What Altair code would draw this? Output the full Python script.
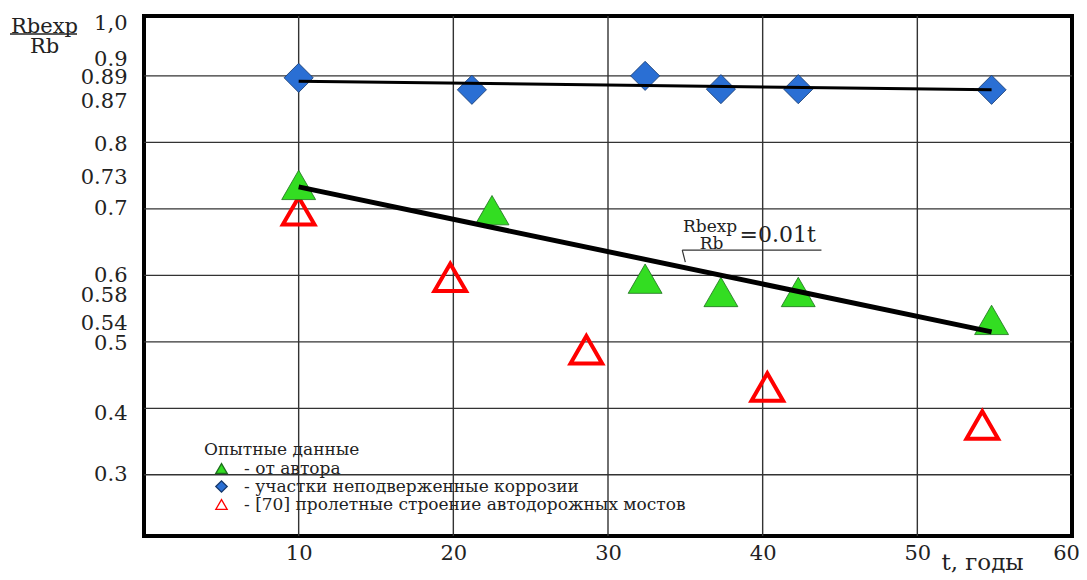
import altair as alt
import pandas as pd

FONT = "DejaVu Serif"
TXT = "#222222"

SER_A = "- от автора"
SER_B = "- участки неподверженные коррозии"
SER_C = "- [70] пролетные строение автодорожных мостов"
series_names = [SER_A, SER_B, SER_C]

# experimental data (t, years ; Rbexp/Rb)
author_t = [10, 22.5, 32.4, 37.3, 42.3, 54.8]
author_r = [0.736, 0.698, 0.595, 0.575, 0.575, 0.533]
nocorr_t = [10, 21.2, 32.4, 37.3, 42.3, 54.8]
nocorr_r = [0.897, 0.879, 0.900, 0.880, 0.880, 0.879]
bridge_t = [10, 19.8, 28.6, 40.3, 54.2]
bridge_r = [0.697, 0.597, 0.488, 0.432, 0.375]

# trend lines
trend_author_t = [10, 54.8]
trend_author_r = [0.733, 0.515]
trend_nocorr_t = [10, 54.8]
trend_nocorr_r = [0.892, 0.879]

x_ticks = [10, 20, 30, 40, 50, 60]
y_grid = [0.3, 0.4, 0.5, 0.6, 0.7, 0.8, 0.9]
y_top = 0.99
y_labels = [y_top, 0.9, 0.89, 0.87, 0.8, 0.73, 0.7, 0.6, 0.58, 0.54, 0.5, 0.4, 0.3]
y_label_shift = [7, -16, -5, 6, 2, -11, 0, 0, 7, 8, 2, 5, 0]

df_a = pd.DataFrame({"t": author_t, "v": author_r, "s": [SER_A] * len(author_t)})
df_b = pd.DataFrame({"t": nocorr_t, "v": nocorr_r, "s": [SER_B] * len(nocorr_t)})
df_c = pd.DataFrame({"t": bridge_t, "v": bridge_r, "s": [SER_C] * len(bridge_t)})

xscale = alt.Scale(domain=[0, 60], nice=False, zero=False)
yscale = alt.Scale(domain=[0.208, y_top], nice=False, zero=False)

offset_cond = {
    "condition": [
        {"test": f"abs(datum.value - {v}) < 0.0001", "value": s}
        for v, s in zip(y_labels, y_label_shift) if s != 0
    ],
    "value": 0,
}
x_offset_cond = {"condition": {"test": "datum.value == 60", "value": -6}, "value": 0}

xaxis = alt.Axis(values=x_ticks, grid=False, ticks=False, domain=False,
                 labelFont=FONT, labelFontSize=21, labelColor=TXT, labelPadding=6,
                 labelFlush=False, labelOverlap=False, labelOffset=x_offset_cond,
                 title="t, годы", titleFont=FONT, titleFontSize=23,
                 titleFontWeight="normal", titleColor=TXT, titleX=838, titleY=33,
                 titleAlign="center", titleBaseline="alphabetic")
yaxis = alt.Axis(values=y_labels, grid=False, ticks=False, domain=False,
                 labelFont=FONT, labelFontSize=21, labelColor=TXT, labelPadding=17,
                 labelFlush=False, labelOverlap=False, labelOffset=offset_cond,
                 labelExpr=f"abs(datum.value - {y_top}) < 0.0001 ? '1,0' : format(datum.value, '.2~f')",
                 title=["Rbexp", "Rb"], titleAngle=0, titleFont=FONT, titleFontSize=21,
                 titleFontWeight="normal", titleColor=TXT, titleX=-100, titleY=16,
                 titleAlign="center", titleBaseline="alphabetic", titleLineHeight=20)

X = alt.X("t:Q", scale=xscale, axis=xaxis)
Y = alt.Y("v:Q", scale=yscale, axis=yaxis)

grid_h = alt.Chart(pd.DataFrame({"v": y_grid})).mark_rule(
    color="#333333", strokeWidth=1.4).encode(y=Y)
grid_v = alt.Chart(pd.DataFrame({"t": x_ticks[:-1]})).mark_rule(
    color="#333333", strokeWidth=1.4).encode(x=X)

legend = alt.Legend(title="Опытные данные", orient="none", legendX=60, legendY=426,
                    titleFont=FONT, titleFontSize=17, titleFontWeight="normal",
                    titleColor=TXT, titlePadding=1, labelFont=FONT, labelFontSize=17,
                    labelColor=TXT, labelLimit=800, symbolSize=130, symbolStrokeWidth=1.3,
                    symbolOffset=9, labelOffset=14, rowPadding=0, padding=0)

enc = dict(
    x=X, y=Y,
    shape=alt.Shape("s:N", scale=alt.Scale(domain=series_names,
                    range=["triangle-up", "diamond", "triangle-up"]), legend=legend),
    fill=alt.Fill("s:N", scale=alt.Scale(domain=series_names,
                  range=["#33dd22", "#2a6fd4", "transparent"]), legend=legend),
    stroke=alt.Stroke("s:N", scale=alt.Scale(domain=series_names,
                      range=["#1d6e1d", "#17396b", "#ff0000"]), legend=legend),
)

pts_c = alt.Chart(df_c).mark_point(opacity=1, size=1000, strokeWidth=4).encode(**enc)
pts_b = alt.Chart(df_b).mark_point(opacity=1, size=850, strokeWidth=0.8).encode(**enc)
pts_a = alt.Chart(df_a).mark_point(opacity=1, size=1150, strokeWidth=0.8).encode(**enc)

line_a = alt.Chart(pd.DataFrame({"t": trend_author_t, "v": trend_author_r})).mark_line(
    color="black", strokeWidth=5).encode(x=X, y=Y)
line_b = alt.Chart(pd.DataFrame({"t": trend_nocorr_t, "v": trend_nocorr_r})).mark_line(
    color="black", strokeWidth=3).encode(x=X, y=Y)

# formula annotation
ann_num = alt.Chart(pd.DataFrame({"t": [36.6], "v": [0.672], "txt": ["Rbexp"]})).mark_text(
    font=FONT, fontSize=17, color=TXT, align="center", baseline="middle").encode(x=X, y=Y, text="txt:N")
ann_den = alt.Chart(pd.DataFrame({"t": [36.7], "v": [0.647], "txt": ["Rb"]})).mark_text(
    font=FONT, fontSize=17, color=TXT, align="center", baseline="middle").encode(x=X, y=Y, text="txt:N")
ann_eq = alt.Chart(pd.DataFrame({"t": [38.5], "v": [0.660], "txt": ["=0.01t"]})).mark_text(
    font=FONT, fontSize=22, color=TXT, align="left", baseline="middle").encode(x=X, y=Y, text="txt:N")
ann_line = alt.Chart(pd.DataFrame({"t": [34.8], "t2": [43.8], "v": [0.638]})).mark_rule(
    color="#333333", strokeWidth=1.2).encode(x=X, x2="t2:Q", y=Y)
ann_lead = alt.Chart(pd.DataFrame({"t": [34.8], "t2": [35.0], "v": [0.638], "v2": [0.620]})).mark_rule(
    color="#333333", strokeWidth=1.2).encode(x=X, x2="t2:Q", y=Y, y2="v2:Q")

# underline of the y-axis title
title_bar = alt.Chart(pd.DataFrame({"a": [0]})).mark_rule(color=TXT, strokeWidth=1.3).encode(
    x=alt.value(-134), x2=alt.value(-67), y=alt.value(18))

chart = alt.layer(
    grid_h, grid_v, pts_c, pts_b, pts_a, line_b, line_a,
    ann_num, ann_den, ann_eq, ann_line, ann_lead, title_bar
).properties(
    width=928, height=520,
    autosize=alt.AutoSizeParams(type="none"),
    padding={"left": 136, "top": 8, "right": 7, "bottom": 40},
    background="white",
).configure_view(stroke="black", strokeWidth=4)

chart.save("out.html", embed_options={"renderer": "svg", "actions": False})
